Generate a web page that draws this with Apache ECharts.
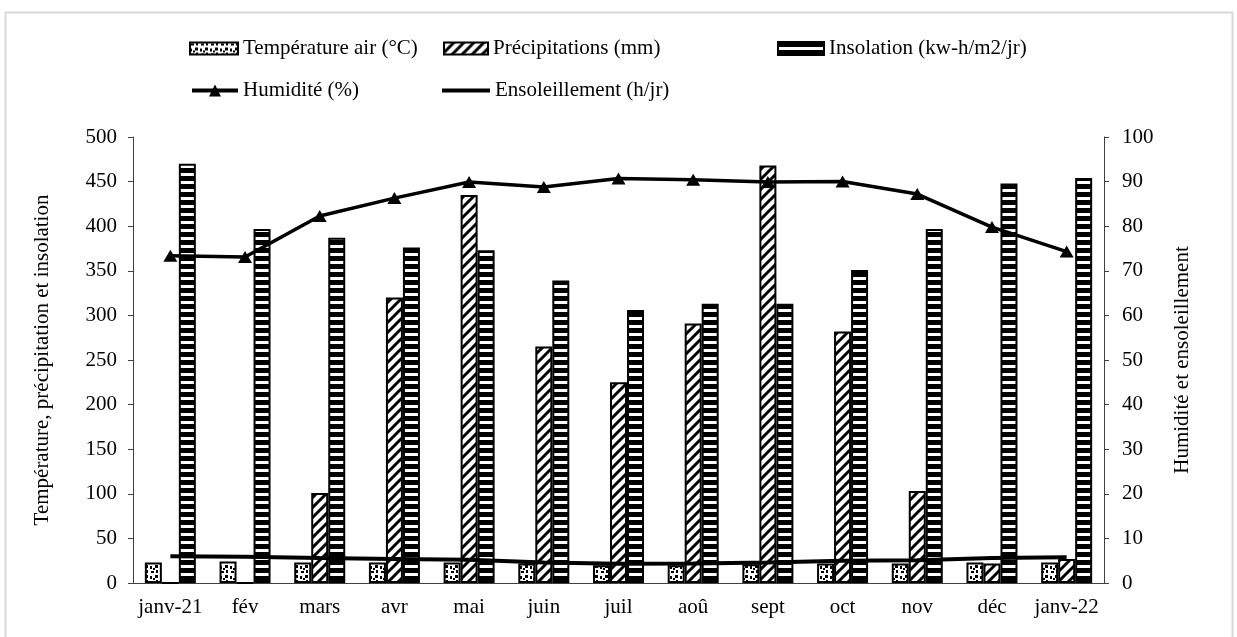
<!DOCTYPE html>
<html>
<head>
<meta charset="utf-8">
<script src="https://cdn.jsdelivr.net/npm/echarts@6/dist/echarts.min.js"></script>
<style>
html,body{margin:0;padding:0;background:#fff;}
#echarts{width:1237px;height:637px;}
</style>
</head>
<body>
<div id="echarts"></div>
<script>
var months=['janv-21','fév','mars','avr','mai','juin','juil','aoû','sept','oct','nov','déc','janv-22'];
var temperature=[23,24,23,23,23,22,20,20,21,22,22,23,23];
var precipitations=[0,0,101,320,435,265,225,291,468,282,103,22,27];
var insolation=[470,397,387,376,373,339,306,313,313,351,397,448,454];
var humidite=[73.4,73.1,82.3,86.3,89.9,88.8,90.7,90.4,89.9,90.0,87.2,79.8,74.3];
var ensoleillement=[6.0,5.9,5.6,5.4,5.2,4.6,4.3,4.4,4.6,5.0,5.1,5.6,5.8];

var names=['Température air (°C)','Précipitations (mm)','Insolation (kw-h/m2/jr)','Humidité (%)','Ensoleillement (h/jr)'];
var serif='"Liberation Serif","Times New Roman",serif';

// motifs de remplissage façon Excel
function tile(w,h,draw){
    var c=document.createElement('canvas');
    c.width=w;c.height=h;
    var ctx=c.getContext('2d');
    ctx.fillStyle='#fff';
    ctx.fillRect(0,0,w,h);
    ctx.fillStyle='#000';
    ctx.strokeStyle='#000';
    draw(ctx);
    return {image:c,repeat:'repeat'};
}
var confetti=tile(10,10,function(ctx){
    ctx.fillRect(1,1,3,2);
    ctx.fillRect(6,0,2,3);
    ctx.fillRect(5,5,3,3);
    ctx.fillRect(0,6,2,3);
    ctx.fillRect(3,8,2,2);
});
var diagonal=tile(10,10,function(ctx){
    ctx.lineWidth=3;
    ctx.beginPath();
    ctx.moveTo(-2,12);ctx.lineTo(12,-2);
    ctx.moveTo(-7,7);ctx.lineTo(7,-7);
    ctx.moveTo(3,17);ctx.lineTo(17,3);
    ctx.stroke();
});
var horizontal=tile(8,8,function(ctx){
    ctx.fillRect(0,0,8,5);
});

function barSeries(name,pattern,data){
    return {
        name:name,
        type:'bar',
        barWidth:17,
        barGap:'0%',
        itemStyle:{color:pattern,borderColor:'#000',borderWidth:2},
        emphasis:{disabled:true},
        data:data
    };
}

function legendAt(item,left,top,w,h){
    return {
        data:[item],
        left:left,
        top:top,
        padding:0,
        itemWidth:w,
        itemHeight:h||12,
        lineStyle:{width:4,color:'#000'},
        textStyle:{fontFamily:serif,fontSize:21,color:'#000',lineHeight:20}
    };
}

var myChart=echarts.init(document.getElementById('echarts'));
var option={
    backgroundColor:'#fff',
    animation:false,
    graphic:[{
        type:'rect',
        left:3,top:10,
        shape:{width:1227,height:640},
        style:{fill:'none',stroke:'#d9d9d9',lineWidth:2}
    }],
    legend:[
        legendAt({name:names[0],icon:'rect'},189,38,48),
        legendAt({name:names[1],icon:'rect'},443,38,44),
        legendAt({name:names[2],icon:'rect'},777,38,46,13),
        legendAt(names[3],190,80,46,15),
        legendAt({name:names[4],icon:'rect'},442,80,48,4)
    ],
    grid:{left:133,right:133,top:137,bottom:54},
    xAxis:{
        type:'category',
        data:months,
        axisLine:{lineStyle:{color:'#404040',width:1}},
        axisTick:{length:7,lineStyle:{color:'#404040'}},
        axisLabel:{fontFamily:serif,fontSize:21,color:'#000',margin:14,interval:0}
    },
    yAxis:[
        {
            type:'value',
            min:0,max:500,interval:50,
            name:'Température, précipitation et insolation',
            nameLocation:'middle',
            nameRotate:90,
            nameGap:80,
            nameTextStyle:{fontFamily:serif,fontSize:21,color:'#000'},
            splitLine:{show:false},
            axisLine:{show:true,lineStyle:{color:'#404040'}},
            axisTick:{show:true,length:5,lineStyle:{color:'#404040'}},
            axisLabel:{fontFamily:serif,fontSize:21,color:'#000',margin:16}
        },
        {
            type:'value',
            min:0,max:100,interval:10,
            name:'Humidité et ensoleillement',
            nameLocation:'middle',
            nameRotate:90,
            nameGap:68,
            nameTextStyle:{fontFamily:serif,fontSize:21,color:'#000'},
            splitLine:{show:false},
            axisLine:{show:true,lineStyle:{color:'#404040'}},
            axisTick:{show:true,length:5,lineStyle:{color:'#404040'}},
            axisLabel:{fontFamily:serif,fontSize:21,color:'#000',margin:18}
        }
    ],
    series:[
        barSeries(names[0],confetti,temperature),
        barSeries(names[1],diagonal,precipitations),
        barSeries(names[2],horizontal,insolation),
        {
            name:names[3],
            type:'line',
            yAxisIndex:1,
            symbol:'triangle',
            symbolSize:[14,12],
            itemStyle:{color:'#000'},
            lineStyle:{color:'#000',width:3.5},
            emphasis:{disabled:true},
            z:5,
            data:humidite
        },
        {
            name:names[4],
            type:'line',
            yAxisIndex:1,
            symbol:'none',
            itemStyle:{color:'#000'},
            lineStyle:{color:'#000',width:4},
            emphasis:{disabled:true},
            z:5,
            data:ensoleillement
        }
    ]
};
myChart.setOption(option);
</script>
</body>
</html>
